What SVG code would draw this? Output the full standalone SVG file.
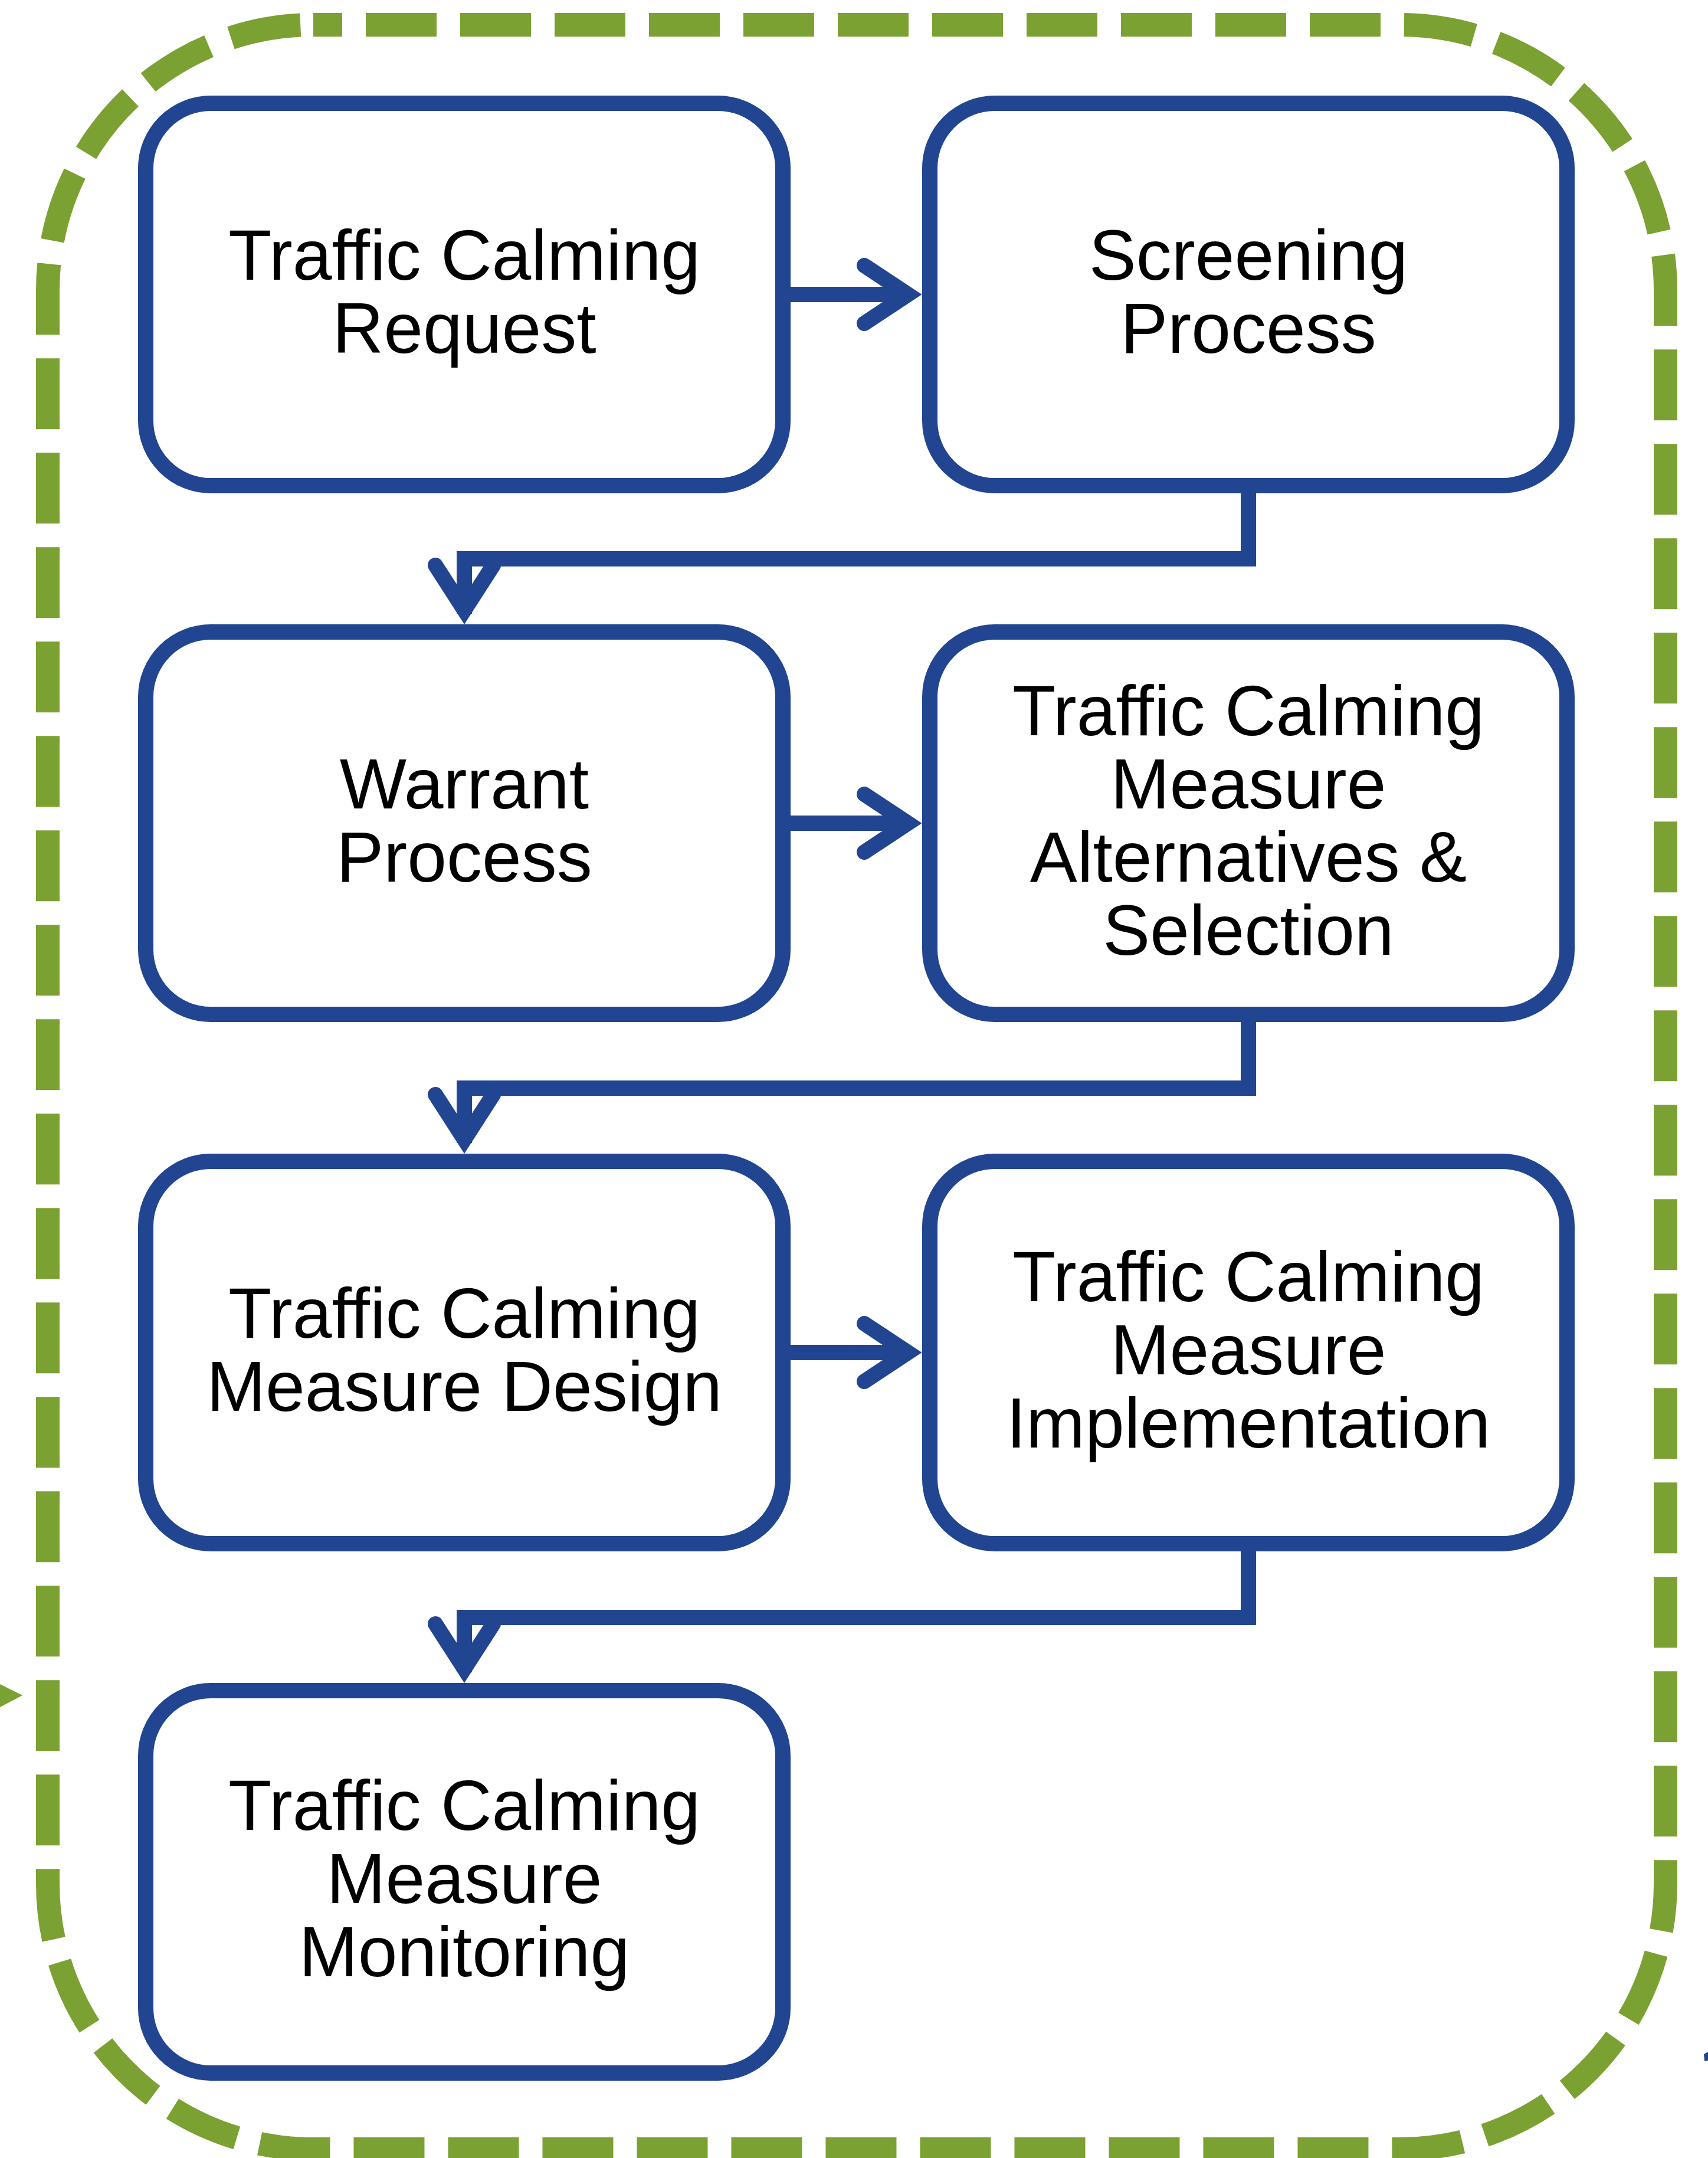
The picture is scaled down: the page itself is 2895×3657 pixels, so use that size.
<svg xmlns="http://www.w3.org/2000/svg" width="2895" height="3657" viewBox="0 0 2895 3657">
<style>
.box{fill:#ffffff;stroke:#214591;stroke-width:26}
.lbl{font-family:"Liberation Sans",Arial,sans-serif;font-size:120px;fill:#000000;text-anchor:middle}
.wire{fill:none;stroke:#214591;stroke-width:26;stroke-linejoin:miter}
.head{fill:none;stroke:#214591;stroke-width:26;stroke-linecap:round;stroke-linejoin:miter;stroke-miterlimit:4}
.frame{fill:none;stroke:#7BA133;stroke-width:40;stroke-dasharray:120 40;stroke-dashoffset:71}
</style>
<rect x="0" y="0" width="2895" height="3657" fill="#ffffff"/>
<g id="frame">
<path class="frame" d="M531 42 H2373 A450 450 0 0 1 2823 492 V3192 A450 450 0 0 1 2373 3642 H531 A450 450 0 0 1 81 3192 V492 A450 450 0 0 1 531 42 Z"/>
<polygon points="0,2854 38,2873 0,2893" fill="#7BA133"/>
<polygon points="2888,3481 2895,3477 2895,3492 2889,3493" fill="#214591"/>
</g>
<g id="n1">
<rect class="box" x="247" y="175" width="1080" height="648" rx="110" ry="110"/>
<text class="lbl"><tspan x="787" y="474">Traffic Calming</tspan><tspan x="787" y="598">Request</tspan></text>
</g>
<g id="n2">
<rect class="box" x="1576" y="175" width="1080" height="648" rx="110" ry="110"/>
<text class="lbl"><tspan x="2116" y="474">Screening</tspan><tspan x="2116" y="598">Process</tspan></text>
</g>
<g id="n3">
<rect class="box" x="247" y="1071" width="1080" height="648" rx="110" ry="110"/>
<text class="lbl"><tspan x="787" y="1370">Warrant</tspan><tspan x="787" y="1494">Process</tspan></text>
</g>
<g id="n4">
<rect class="box" x="1576" y="1071" width="1080" height="648" rx="110" ry="110"/>
<text class="lbl"><tspan x="2116" y="1246">Traffic Calming</tspan><tspan x="2116" y="1370">Measure</tspan><tspan x="2116" y="1494">Alternatives &amp;</tspan><tspan x="2116" y="1618">Selection</tspan></text>
</g>
<g id="n5">
<rect class="box" x="247" y="1968" width="1080" height="648" rx="110" ry="110"/>
<text class="lbl"><tspan x="787" y="2267">Traffic Calming</tspan><tspan x="787" y="2391">Measure Design</tspan></text>
</g>
<g id="n6">
<rect class="box" x="1576" y="1968" width="1080" height="648" rx="110" ry="110"/>
<text class="lbl"><tspan x="2116" y="2205">Traffic Calming</tspan><tspan x="2116" y="2329">Measure</tspan><tspan x="2116" y="2453">Implementation</tspan></text>
</g>
<g id="n7">
<rect class="box" x="247" y="2865" width="1080" height="648" rx="110" ry="110"/>
<text class="lbl"><tspan x="787" y="3101">Traffic Calming</tspan><tspan x="787" y="3225">Measure</tspan><tspan x="787" y="3349">Monitoring</tspan></text>
</g>
<g id="connectors">
<path class="wire" d="M1340 499 H1539"/>
<polyline class="head" points="1465,450 1539,499 1465,548"/>
<path class="wire" d="M1340 1395 H1539"/>
<polyline class="head" points="1465,1346 1539,1395 1465,1444"/>
<path class="wire" d="M1340 2292 H1539"/>
<polyline class="head" points="1465,2243 1539,2292 1465,2341"/>
<path class="wire" d="M2116 836 V947 H787 V1040"/>
<polyline class="head" points="738,958 787,1034 836,958"/>
<path class="wire" d="M2116 1732 V1844 H787 V1937"/>
<polyline class="head" points="738,1855 787,1931 836,1855"/>
<path class="wire" d="M2116 2629 V2741 H787 V2834"/>
<polyline class="head" points="738,2752 787,2828 836,2752"/>
</g>
</svg>
